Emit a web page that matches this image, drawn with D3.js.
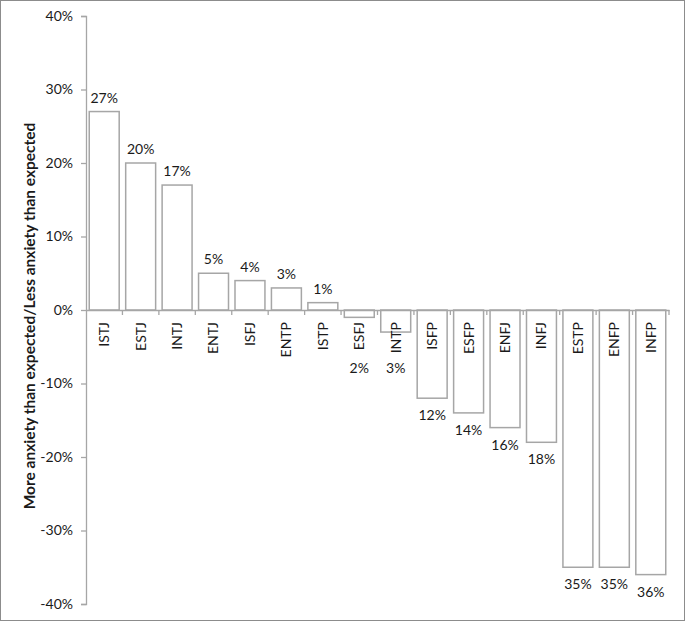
<!DOCTYPE html>
<html><head><meta charset="utf-8">
<script src="https://cdn.jsdelivr.net/npm/d3@7"></script>
<style>
html,body{margin:0;padding:0;background:#fff;}
svg{display:block;}
text{font-family:Lato,"Open Sans",sans-serif;fill:#1a1a1a;}
</style></head>
<body>
<svg id="c" width="685" height="621"></svg>
<script>
const categories = ["ISTJ","ESTJ","INTJ","ENTJ","ISFJ","ENTP","ISTP","ESFJ","INTP","ISFP","ESFP","ENFJ","INFJ","ESTP","ENFP","INFP"];
const values = [27,20,17,5,4,3,1,-1,-3,-12,-14,-16,-18,-35,-35,-36];
const valueLabels = ["27%","20%","17%","5%","4%","3%","1%","2%","3%","12%","14%","16%","18%","35%","35%","36%"];
const yTicks = [-40,-30,-20,-10,0,10,20,30,40];
const yTitle = "More anxiety than expected/Less anxiety than expected";

const svg = d3.select("#c");
const W = 685, H = 621;
svg.append("rect").attr("x",0.5).attr("y",0.5).attr("width",W-1).attr("height",H-1)
  .attr("fill","#fff").attr("stroke","#8c8c8c").attr("stroke-width",1);

const y = d3.scaleLinear().domain([-40,40]).range([604,16]);
const x = d3.scaleBand().domain(categories).range([86,669]).paddingInner(0.178).paddingOuter(0.089);
const axisColor = "#a6a6a6";

// bars
svg.selectAll("rect.bar").data(categories).join("rect").attr("class","bar")
  .attr("x",d=>x(d)).attr("width",x.bandwidth())
  .attr("y",(d,i)=>y(Math.max(0,values[i])))
  .attr("height",(d,i)=>Math.abs(y(values[i])-y(0)))
  .attr("fill","#fff").attr("stroke","#a6a6a6").attr("stroke-width",1.5);

// y axis
const yAxis = d3.axisLeft(y).tickValues(yTicks).tickSize(5).tickPadding(8).tickFormat(d=>d+"%");
const gy = svg.append("g").attr("transform","translate(86,0)").call(yAxis);
gy.select(".domain").attr("stroke",axisColor).attr("stroke-width",1.3);
gy.selectAll(".tick line").attr("stroke",axisColor).attr("stroke-width",1.3);
gy.selectAll(".tick text").attr("font-size",14).attr("font-family","Lato,'Open Sans',sans-serif").attr("fill","#1a1a1a");

// x axis at zero
const xAxis = d3.axisBottom(x).tickSize(0).tickFormat("");
const gx = svg.append("g").attr("transform",`translate(0,${y(0)})`).call(xAxis);
gx.select(".domain").attr("stroke",axisColor).attr("stroke-width",1.3);
gx.selectAll(".tick").remove();
// category boundary ticks
const step = x.step();
const bounds = d3.range(categories.length+1).map(i=>86+i*step).slice(1);
svg.selectAll("line.ct").data(bounds).join("line").attr("class","ct")
  .attr("x1",d=>d).attr("x2",d=>d).attr("y1",y(0)).attr("y2",y(0)+5)
  .attr("stroke",axisColor).attr("stroke-width",1.3);

// category labels
svg.selectAll("text.cat").data(categories).join("text").attr("class","cat")
  .attr("transform",d=>`translate(${x(d)+x.bandwidth()/2},${y(0)+12}) rotate(-90)`)
  .attr("text-anchor","end").attr("dy","0.35em").attr("font-size",14).text(d=>d);

// value labels
svg.selectAll("text.val").data(categories).join("text").attr("class","val")
  .attr("x",d=>x(d)+x.bandwidth()/2)
  .attr("y",(d,i)=>{
    const v=values[i];
    if(v>=0) return y(v)-9;
    return Math.max(y(v)+22, 373);
  })
  .attr("text-anchor","middle").attr("font-size",14).text((d,i)=>valueLabels[i]);

// y title
svg.append("text").attr("transform",`translate(35,${y(0)+6}) rotate(-90)`)
  .attr("text-anchor","middle").attr("font-size",15.5).attr("font-weight","bold").text(yTitle);
</script>
</body></html>
